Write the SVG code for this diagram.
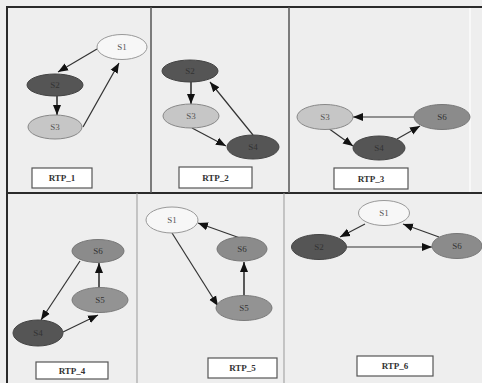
<svg xmlns="http://www.w3.org/2000/svg" width="482" height="383" viewBox="0 0 482 383">
<defs>
<marker id="ah" markerUnits="userSpaceOnUse" markerWidth="10" markerHeight="10" viewBox="0 0 10 10" refX="10" refY="5" orient="auto">
<path d="M0,1 L10,5 L0,9 Z" fill="#111"/>
</marker>
<style>
.bg{fill:#eeeeee}
.frame{stroke:#2a2a2a;stroke-width:2;fill:none}
.div{stroke:#555;stroke-width:1.5}
.divl{stroke:#999;stroke-width:1}
.faint{stroke:#f8f8f8;stroke-width:2}
.e{stroke:#333;stroke-width:1.2;fill:none;marker-end:url(#ah)}
.w{fill:#f7f7f7;stroke:#999;stroke-width:1}
.l{fill:#c6c6c6;stroke:#888;stroke-width:1}
.m{fill:#8b8b8b;stroke:#777;stroke-width:1}
.m5{fill:#939393;stroke:#7a7a7a;stroke-width:1}
.d{fill:#555555;stroke:#444;stroke-width:1}
.t{font-family:"Liberation Serif",serif;font-size:9px;fill:#555;text-anchor:middle;dominant-baseline:central}
.td{font-family:"Liberation Serif",serif;font-size:9px;fill:#333;text-anchor:middle;dominant-baseline:central}
.box{fill:#ffffff;stroke:#555;stroke-width:1.2}
.bt{font-family:"Liberation Serif",serif;font-size:9px;font-weight:bold;fill:#333;text-anchor:middle;dominant-baseline:central}
</style>
</defs>
<rect class="bg" x="0" y="0" width="482" height="383"/>
<g id="frame">
<line class="frame" x1="7" y1="7" x2="482" y2="7"/>
<line class="frame" x1="7" y1="6" x2="7" y2="383"/>
<line class="frame" x1="7" y1="193" x2="482" y2="193"/>
<line class="div" x1="151" y1="7" x2="151" y2="193"/>
<line class="div" x1="289" y1="7" x2="289" y2="193"/>
<line class="faint" x1="470" y1="8" x2="470" y2="192"/>
<line class="divl" x1="137" y1="193" x2="137" y2="383"/>
<line class="divl" x1="284" y1="193" x2="284" y2="383"/>
</g>
<g id="connectors">
<line class="e" x1="97" y1="49" x2="58" y2="72"/>
<line class="e" x1="57" y1="96" x2="57" y2="115" style="stroke-width:1.6"/>
<line class="e" x1="83" y1="127" x2="119" y2="63"/>
<line class="e" x1="191" y1="82" x2="191" y2="104" style="stroke-width:1.6"/>
<line class="e" x1="192" y1="128" x2="226" y2="146"/>
<line class="e" x1="253" y1="135" x2="210" y2="82"/>
<line class="e" x1="414" y1="117" x2="353" y2="117"/>
<line class="e" x1="328" y1="128" x2="353" y2="146"/>
<line class="e" x1="397" y1="139" x2="420" y2="126"/>
<line class="e" x1="80" y1="261" x2="41" y2="320"/>
<line class="e" x1="63" y1="332" x2="98" y2="315"/>
<line class="e" x1="99" y1="288" x2="99" y2="263" style="stroke-width:1.6"/>
<line class="e" x1="240" y1="238" x2="198" y2="223"/>
<line class="e" x1="244" y1="296" x2="244" y2="262" style="stroke-width:1.6"/>
<line class="e" x1="172" y1="233" x2="218" y2="306"/>
<line class="e" x1="365" y1="224" x2="340" y2="237"/>
<line class="e" x1="347" y1="247" x2="432" y2="247"/>
<line class="e" x1="439" y1="237" x2="403" y2="224"/>
</g>
<g id="rtp1">
<g id="p1-s1"><ellipse class="w" cx="122" cy="47" rx="25" ry="12.5"/><text class="t" x="122" y="47">S1</text></g>
<g id="p1-s2"><ellipse class="d" cx="55" cy="85" rx="28" ry="11"/><text class="td" x="55" y="85">S2</text></g>
<g id="p1-s3"><ellipse class="l" cx="55" cy="127" rx="27" ry="12"/><text class="t" x="55" y="127">S3</text></g>
<g id="p1-label"><rect class="box" x="32" y="168" width="60" height="20"/><text class="bt" x="62" y="178">RTP_1</text></g>
</g>
<g id="rtp2">
<g id="p2-s2"><ellipse class="d" cx="190" cy="71" rx="28" ry="11"/><text class="td" x="190" y="71">S2</text></g>
<g id="p2-s3"><ellipse class="l" cx="191" cy="116" rx="28" ry="12"/><text class="t" x="191" y="116">S3</text></g>
<g id="p2-s4"><ellipse class="d" cx="253" cy="147" rx="26" ry="12"/><text class="td" x="253" y="147">S4</text></g>
<g id="p2-label"><rect class="box" x="179" y="167" width="73" height="21"/><text class="bt" x="215.5" y="177.5">RTP_2</text></g>
</g>
<g id="rtp3">
<g id="p3-s3"><ellipse class="l" cx="325" cy="117" rx="28" ry="12.5"/><text class="t" x="325" y="117">S3</text></g>
<g id="p3-s6"><ellipse class="m" cx="442" cy="117" rx="28" ry="12.5"/><text class="td" x="442" y="117">S6</text></g>
<g id="p3-s4"><ellipse class="d" cx="379" cy="148" rx="26" ry="12"/><text class="td" x="379" y="148">S4</text></g>
<g id="p3-label"><rect class="box" x="334" y="168" width="74" height="21"/><text class="bt" x="371" y="178.5">RTP_3</text></g>
</g>
<g id="rtp4">
<g id="p4-s6"><ellipse class="m" cx="98" cy="251" rx="26" ry="11.5"/><text class="td" x="98" y="251">S6</text></g>
<g id="p4-s5"><ellipse class="m5" cx="100" cy="300" rx="28" ry="12.5"/><text class="td" x="100" y="300">S5</text></g>
<g id="p4-s4"><ellipse class="d" cx="38" cy="333" rx="25" ry="13"/><text class="td" x="38" y="333">S4</text></g>
<g id="p4-label"><rect class="box" x="36" y="362" width="72" height="17"/><text class="bt" x="72" y="370.5">RTP_4</text></g>
</g>
<g id="rtp5">
<g id="p5-s1"><ellipse class="w" cx="172" cy="220" rx="26" ry="13"/><text class="t" x="172" y="220">S1</text></g>
<g id="p5-s6"><ellipse class="m" cx="242" cy="249" rx="25" ry="12"/><text class="td" x="242" y="249">S6</text></g>
<g id="p5-s5"><ellipse class="m5" cx="244" cy="308" rx="28" ry="12.5"/><text class="td" x="244" y="308">S5</text></g>
<g id="p5-label"><rect class="box" x="208" y="358" width="69" height="20"/><text class="bt" x="242.5" y="368">RTP_5</text></g>
</g>
<g id="rtp6">
<g id="p6-s1"><ellipse class="w" cx="384" cy="213" rx="25.5" ry="12.5"/><text class="t" x="384" y="213">S1</text></g>
<g id="p6-s2"><ellipse class="d" cx="319" cy="247" rx="27.5" ry="12.5"/><text class="td" x="319" y="247">S2</text></g>
<g id="p6-s6"><ellipse class="m" cx="457" cy="246" rx="25" ry="12.5"/><text class="td" x="457" y="246">S6</text></g>
<g id="p6-label"><rect class="box" x="357" y="356" width="76" height="20"/><text class="bt" x="395" y="366">RTP_6</text></g>
</g>
</svg>
